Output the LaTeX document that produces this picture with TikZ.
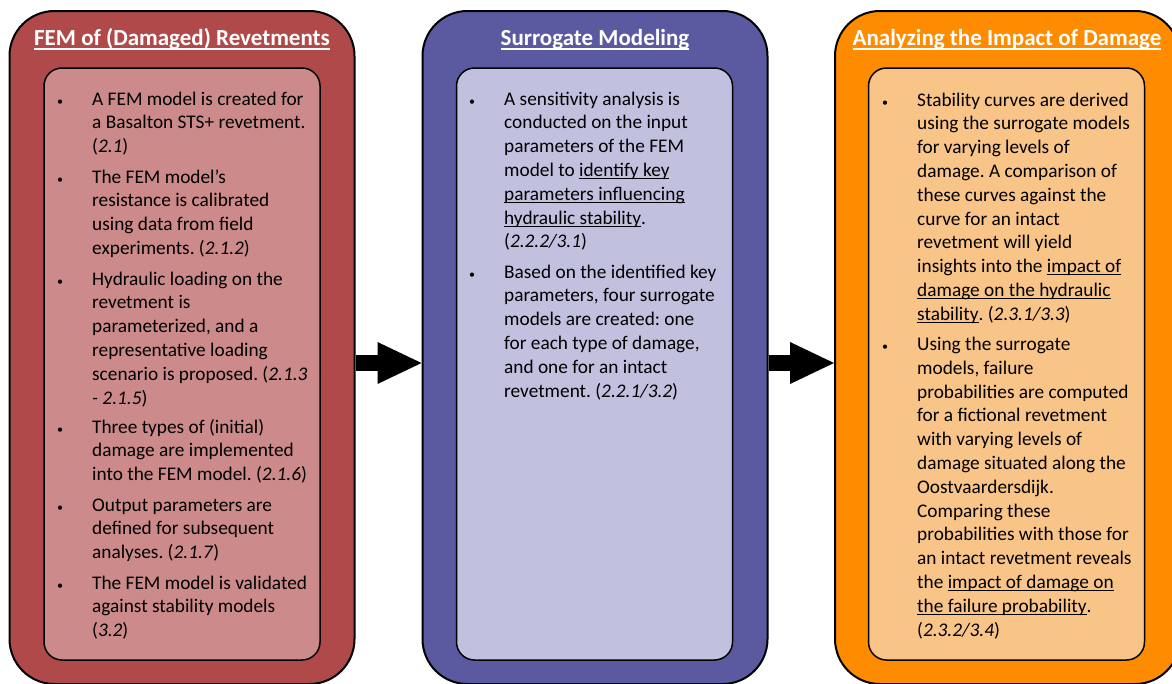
\documentclass[tikz,border=0pt]{standalone}
\usepackage{fontspec}
\setmainfont{Carlito}
\usetikzlibrary{arrows.meta, positioning}
\frenchspacing
\definecolor{femred}{RGB}{176,74,74}
\definecolor{femlight}{RGB}{204,138,138}
\definecolor{surblue}{RGB}{91,89,160}
\definecolor{surlight}{RGB}{193,192,222}
\definecolor{imporange}{RGB}{255,140,0}
\definecolor{implight}{RGB}{248,196,136}
% underline at a fixed depth below the baseline
\newcommand{\undl}[1]{\setbox0\hbox{#1}\rlap{\rule[-2.8pt]{\wd0}{1.3pt}}\box0}
\newcommand{\undlt}[1]{\setbox0\hbox{#1}\rlap{\rule[-4.6pt]{\wd0}{1.8pt}}\box0}
\tikzset{
  outerbox/.style={draw, line width=2pt, rounded corners=45pt, minimum width=345pt, minimum height=673pt},
  innerbox/.style={draw, line width=1.5pt, rounded corners=18pt, minimum width=276pt, minimum height=592pt},
  boxtitle/.style={anchor=base, inner sep=0pt, text=white, font=\fontsize{23}{27}\selectfont\bfseries},
  bul/.style={anchor=base, inner sep=0pt, font=\fontsize{12}{12}\selectfont},
  itm/.style={anchor=base west, inner sep=0pt, font=\fontsize{19.3}{23.8}\selectfont},
  blockarr/.style={line width=16pt, -{Triangle[length=44pt, width=42pt, line width=0pt]}}
}
% bullet item: x, y of first baseline, name, text
\newcommand{\bitem}[4]{%
  \node[bul] at (#1,#2) {\textbullet};
  \node[itm] (#3) at ({#1+32},#2) {\begin{tabular}[t]{@{}l@{}}#4\end{tabular}};}

\begin{document}
\begin{tikzpicture}[x=1pt, y=-1pt, >=latex]
\clip (0,0) rectangle (1172,683);
% the three stages
\node[outerbox, fill=femred] (fem) at (182,347.5) {};
\node[outerbox, fill=surblue] (sur) at (595,347.5) {};
\node[outerbox, fill=imporange] (imp) at (1007.5,347.5) {};
\node[innerbox, fill=femlight] (femin) at (182,364) {};
\node[innerbox, fill=surlight] (surin) at (594.5,364) {};
\node[innerbox, fill=implight] (impin) at (1006.5,364) {};
\node[boxtitle] (femtitle) at (182,45) {\undlt{FEM of (Damaged) Revetments}};
\node[boxtitle] (surtitle) at (595,45) {\undlt{Surrogate Modeling}};
\node[boxtitle] (imptitle) at (1007,45) {\undlt{Analyzing the Impact of Damage}};

% FEM
\bitem{60}{105}{fem1}{A FEM model is created for\\a Basalton STS+ revetment.\\(\textit{2.1})}
\bitem{60}{183}{fem2}{The FEM model’s\\resistance is calibrated\\using data from field\\experiments. (\textit{2.1.2})}
\bitem{60}{285}{fem3}{Hydraulic loading on the\\revetment is\\parameterized, and a\\representative loading\\scenario is proposed. (\textit{2.1.3}\\\textit{- 2.1.5})}
\bitem{60}{433}{fem4}{Three types of (initial)\\damage are implemented\\into the FEM model. (\textit{2.1.6})}
\bitem{60}{511}{fem5}{Output parameters are\\defined for subsequent\\analyses. (\textit{2.1.7})}
\bitem{60}{589}{fem6}{The FEM model is validated\\against stability models\\(\textit{3.2})}

% surrogate
\bitem{472}{105}{sur1}{A sensitivity analysis is\\conducted on the input\\parameters of the FEM\\model to \undl{identify key}\\\undl{parameters influencing}\\\undl{hydraulic stability}.\\(\textit{2.2.2/3.1})}
\bitem{472}{278}{sur2}{Based on the identified key\\parameters, four surrogate\\models are created: one\\for each type of damage,\\and one for an intact\\revetment. (\textit{2.2.1/3.2})}

% impact
\bitem{885}{106}{imp1}{Stability curves are derived\\using the surrogate models\\for varying levels of\\damage. A comparison of\\these curves against the\\curve for an intact\\revetment will yield\\insights into the \undl{impact of}\\\undl{damage on the hydraulic}\\\undl{stability}. (\textit{2.3.1/3.3})}
\bitem{885}{350.5}{imp2}{Using the surrogate\\models, failure\\probabilities are computed\\for a fictional revetment\\with varying levels of\\damage situated along the\\Oostvaardersdijk.\\Comparing these\\probabilities with those for\\an intact revetment reveals\\the \undl{impact of damage on}\\\undl{the failure probability}.\\(\textit{2.3.2/3.4})}

\draw[blockarr] ([yshift=-15.5pt]fem.east) -- ([yshift=-15.5pt]sur.west);
\draw[blockarr] ([yshift=-15.5pt]sur.east) -- ([yshift=-15.5pt]imp.west);
\end{tikzpicture}
\end{document}
